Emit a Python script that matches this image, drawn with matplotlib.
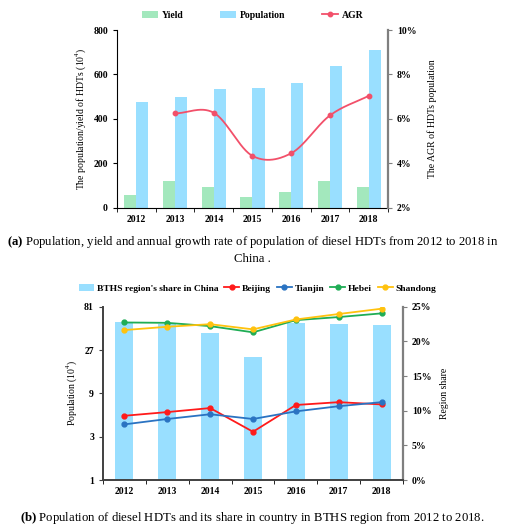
import numpy as np
import matplotlib
matplotlib.use("Agg")
import matplotlib.pyplot as plt
from matplotlib.ticker import FixedLocator

plt.rcParams['font.family'] = ['Liberation Serif', 'DejaVu Serif']
plt.rcParams['mathtext.fontset'] = 'custom'
plt.rcParams['mathtext.rm'] = 'Liberation Serif'
plt.rcParams['mathtext.bf'] = 'Liberation Serif:bold'

years = ['2012', '2013', '2014', '2015', '2016', '2017', '2018']

# (a) population / yield / AGR
yield_vals = [60, 120, 95, 50, 72, 120, 95]
population = [475, 500, 537, 540, 563, 638, 710]
agr_years = ['2013', '2014', '2015', '2016', '2017', '2018']
agr = [6.25, 6.28, 4.34, 4.46, 6.16, 7.04]

# (b) regional populations and share
share = [22.8, 22.5, 21.25, 17.8, 22.6, 22.5, 22.35]
beijing = [5.1, 5.6, 6.2, 3.4, 6.7, 7.2, 6.8]
tianjin = [4.1, 4.7, 5.3, 4.7, 5.7, 6.5, 7.2]
hebei = [54.3, 53.8, 49.5, 42.3, 57.6, 62.3, 68.4]
shandong = [44.8, 48.7, 52.0, 45.6, 58.6, 67.3, 77.0]

c_yield = '#a3e8bd'
c_pop = '#99dfff'
c_agr = '#f2506a'
c_bj = '#ff1a1a'
c_tj = '#2a73c2'
c_hb = '#1fad55'
c_sd = '#ffc20e'
gray = '#7f7f7f'


def catmull_rom(xs, ys, n=30):
    # smoothed line through the points, similar to spreadsheet smoothing
    xs = np.asarray(xs, float)
    ys = np.asarray(ys, float)
    px = np.concatenate([[2 * xs[0] - xs[1]], xs, [2 * xs[-1] - xs[-2]]])
    py = np.concatenate([[2 * ys[0] - ys[1]], ys, [2 * ys[-1] - ys[-2]]])
    ox, oy = [], []
    t = np.linspace(0, 1, n)
    for i in range(1, len(px) - 2):
        for p, out in ((px, ox), (py, oy)):
            p0, p1, p2, p3 = p[i - 1], p[i], p[i + 1], p[i + 2]
            out.extend(0.5 * (2 * p1 + (-p0 + p2) * t
                              + (2 * p0 - 5 * p1 + 4 * p2 - p3) * t ** 2
                              + (-p0 + 3 * p1 - 3 * p2 + p3) * t ** 3))
    return np.array(ox), np.array(oy)


def style_x(ax, n):
    ax.set_xlim(-0.5, n - 0.5)
    ax.set_xticks(range(n))
    ax.set_xticklabels(years, fontsize=7, fontweight='bold')
    ax.tick_params(axis='x', which='major', length=0, pad=5)
    ax.xaxis.set_minor_locator(FixedLocator(np.arange(-0.5, n, 1.0)))
    ax.tick_params(axis='x', which='minor', length=3)


fig = plt.figure(figsize=(5.05, 5.31), dpi=100)

# ---------- (a) ----------
ax1 = fig.add_axes([0.2317, 0.6083, 0.5366, 0.3352])
x = np.arange(len(years))
w = 0.31
ax1.bar(x - w / 2, yield_vals, w, color=c_yield, label='Yield', zorder=2)
ax1.bar(x + w / 2, population, w, color=c_pop, label='Population', zorder=2)
ax1.set_ylim(0, 800)
ax1.set_yticks([0, 200, 400, 600, 800])
ax1.tick_params(axis='y', labelsize=7, length=3)
for lab in ax1.get_yticklabels():
    lab.set_fontweight('bold')
style_x(ax1, len(years))
ax1.spines['top'].set_visible(False)
ax1.spines['right'].set_visible(False)
ax1.set_ylabel('The population/yield of HDTs (10$^4$)', fontsize=7, labelpad=4)

ax2 = ax1.twinx()
ax2.set_ylim(2, 10)
ax2.set_yticks([2, 4, 6, 8, 10])
ax2.set_yticklabels(['2%', '4%', '6%', '8%', '10%'], fontsize=7, fontweight='bold')
ax2.tick_params(axis='y', length=3, color=gray)
ax2.spines['top'].set_visible(False)
ax2.spines['left'].set_visible(False)
ax2.spines['bottom'].set_visible(False)
ax2.spines['right'].set_color(gray)
ax2.spines['right'].set_linewidth(1.6)
ax_pos = [years.index(y) for y in agr_years]
sx, sy = catmull_rom(ax_pos, agr)
ax2.plot(sx, sy, color=c_agr, lw=1.3, zorder=3)
ax2.plot(ax_pos, agr, 'o', color=c_agr, ms=3.2, zorder=4)
ax2.set_ylabel('The AGR of HDTs population', fontsize=7, labelpad=8)
agr_handle = plt.Line2D([], [], color=c_agr, lw=1.3, marker='o', ms=3.2)

h1, l1 = ax1.get_legend_handles_labels()
fig.legend(h1 + [agr_handle], l1 + ['AGR'], loc='center', ncol=3,
           bbox_to_anchor=(0.5, 0.971), frameon=False,
           prop={'weight': 'bold', 'size': 7}, columnspacing=3.8,
           handlelength=1.6, handletextpad=0.4)

fig.text(0.5, 0.545,
         r'$\mathbf{(a)}$ Population, yield and annual growth rate of population of diesel HDTs from 2012 to 2018 in',
         ha='center', va='center', fontsize=9.2)
fig.text(0.5, 0.513, 'China .', ha='center', va='center', fontsize=9.2)

# ---------- (b) ----------
ax3 = fig.add_axes([0.204, 0.096, 0.594, 0.3264])
ax4 = ax3.twinx()
ax3.set_zorder(ax4.get_zorder() + 1)
ax3.patch.set_visible(False)

ax4.bar(x, share, 0.42, color=c_pop, label="BTHS region's share in China", zorder=1)
ax4.set_ylim(0, 25)
ax4.set_yticks([0, 5, 10, 15, 20, 25])
ax4.set_yticklabels(['0%', '5%', '10%', '15%', '20%', '25%'], fontsize=7, fontweight='bold')
ax4.tick_params(axis='y', length=3, color=gray)
for s in ('top', 'left', 'bottom'):
    ax4.spines[s].set_visible(False)
ax4.spines['right'].set_color(gray)
ax4.spines['right'].set_linewidth(1.6)
ax4.set_ylabel('Region share', fontsize=7, labelpad=6)

for vals, col, name in ((beijing, c_bj, 'Beijing'), (tianjin, c_tj, 'Tianjin'),
                        (hebei, c_hb, 'Hebei'), (shandong, c_sd, 'Shandong')):
    ax3.plot(x, vals, color=col, lw=1.3, marker='o', ms=3.5, label=name)
ax3.set_yscale('log')
ax3.set_ylim(1, 81)
ax3.yaxis.set_major_locator(FixedLocator([1, 3, 9, 27, 81]))
ax3.yaxis.set_minor_locator(FixedLocator([]))
ax3.set_yticklabels(['1', '3', '9', '27', '81'], fontsize=7, fontweight='bold')
ax3.tick_params(axis='y', length=3, color='#404040')
style_x(ax3, len(years))
ax3.spines['top'].set_visible(False)
ax3.spines['right'].set_visible(False)
ax3.spines['left'].set_color('#404040')
ax3.spines['bottom'].set_color('#404040')
ax3.spines['left'].set_linewidth(1.4)
ax3.spines['bottom'].set_linewidth(1.4)
ax3.set_ylabel('Population (10$^4$)', fontsize=7, labelpad=4)

hb, lb = ax4.get_legend_handles_labels()
hl, ll = ax3.get_legend_handles_labels()
fig.legend(hb + hl, lb + ll, loc='center', ncol=5, bbox_to_anchor=(0.51, 0.457),
           frameon=False, prop={'weight': 'bold', 'size': 6.8}, columnspacing=0.6,
           handlelength=1.6, handletextpad=0.3)

fig.text(0.5, 0.025,
         r'$\mathbf{(b)}$ Population of diesel HDTs and its share in country in BTHS region from 2012 to 2018.',
         ha='center', va='center', fontsize=9.2)

fig.savefig('out.png', dpi=100)
